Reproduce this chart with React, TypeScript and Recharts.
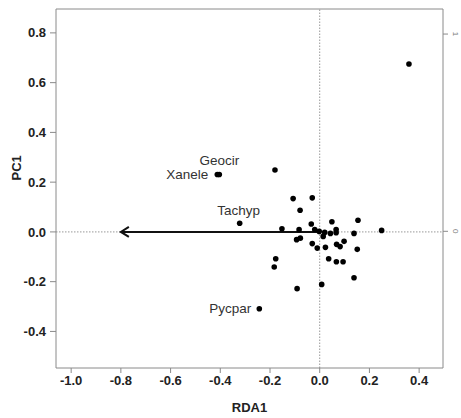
import { ScatterChart, Scatter, XAxis, YAxis, ReferenceLine } from "recharts";

// site scores (RDA1, PC1)
const siteX = [
  0.359, -0.18, -0.412, -0.404, -0.107, -0.03, -0.079, -0.322, 0.049, 0.154,
  -0.034, -0.152, -0.083, -0.02, -0.002, 0.02, 0.043, 0.066, 0.066, 0.014,
  0.138, 0.249, -0.093, -0.078, -0.03, -0.01, 0.023, 0.068, 0.082, 0.098,
  0.151, -0.177, -0.183, 0.036, 0.067, 0.094, 0.138, -0.091, 0.008, -0.243,
];
const siteY = [
  0.675, 0.249, 0.231, 0.231, 0.134, 0.137, 0.087, 0.035, 0.041, 0.047,
  0.032, 0.013, 0.009, 0.01, 0.002, -0.002, -0.006, 0.01, -0.003, -0.018,
  -0.006, 0.006, -0.031, -0.025, -0.047, -0.065, -0.062, -0.05, -0.059, -0.038,
  -0.07, -0.108, -0.141, -0.108, -0.12, -0.12, -0.184, -0.228, -0.211, -0.309,
];

const speciesNames = ["Geocir", "Xanele", "Tachyp", "Pycpar"];
const speciesX = [-0.408, -0.412, -0.322, -0.243];
const speciesY = [0.231, 0.231, 0.035, -0.309];

const arrowX = [0, -0.8];
const arrowY = [0, 0];

const xTicks = [-1.0, -0.8, -0.6, -0.4, -0.2, 0.0, 0.2, 0.4];
const yTicks = [0.8, 0.6, 0.4, 0.2, 0.0, -0.2, -0.4];
const topTicks = [-1, 0];
const rightTicks = [0, 1];

const sites = siteX.map((x, i) => ({ x, y: siteY[i] }));
const species = speciesNames.map((name, i) => ({ name, x: speciesX[i], y: speciesY[i] }));
const arrowHead = [{ x: arrowX[1], y: arrowY[1] }];

const FONT = "'Liberation Sans', Arial, sans-serif";
const AXIS = "#8a8a8a";

// where each species name sits relative to its point
const LABEL_POS: Record<string, { dx: number; dy: number; anchor: string }> = {
  Geocir: { dx: 1, dy: -9, anchor: "middle" },
  Xanele: { dx: -9, dy: 4.5, anchor: "end" },
  Tachyp: { dx: -1, dy: -8, anchor: "middle" },
  Pycpar: { dx: -8, dy: 4.5, anchor: "end" },
};

const SpeciesLabel = (props: any) => {
  const { cx, cy, payload } = props;
  const p = LABEL_POS[payload.name];
  return (
    <text x={cx + p.dx} y={cy + p.dy} textAnchor={p.anchor} fontSize={13.5} fontFamily={FONT} fill="#333">
      {payload.name}
    </text>
  );
};

const ArrowHead = (props: any) => {
  const { cx, cy } = props;
  return (
    <polyline
      points={`${cx + 8},${cy - 5} ${cx},${cy} ${cx + 8},${cy + 5}`}
      fill="none"
      stroke="#111"
      strokeWidth={2}
    />
  );
};

const RightTick = (props: any) => {
  const { x, y, payload } = props;
  return (
    <text
      x={x + 3}
      y={y}
      transform={`rotate(90 ${x + 3} ${y})`}
      textAnchor="middle"
      fontSize={8}
      fontFamily={FONT}
      fill="#777"
    >
      {payload.value}
    </text>
  );
};

export default function App() {
  return (
    <div style={{ position: "absolute", left: 0, top: 0, background: "#fff" }}>
      <ScatterChart width={461} height={418} margin={{ top: 0, right: 0, bottom: 0, left: 0 }}>
        <XAxis
          dataKey="x"
          type="number"
          domain={[-1.061, 0.496]}
          ticks={xTicks}
          allowDataOverflow
          height={50}
          tickSize={5}
          tickMargin={3}
          stroke={AXIS}
          tick={{ fill: "#222", fontSize: 13, fontWeight: "bold", fontFamily: FONT }}
          tickFormatter={(v: number) => v.toFixed(1)}
          label={{ value: "RDA1", position: "insideBottom", offset: 6, fill: "#222", fontSize: 13, fontWeight: "bold", fontFamily: FONT }}
        />
        <XAxis
          xAxisId="top"
          orientation="top"
          type="number"
          domain={[-1.339, 0.627]}
          ticks={topTicks}
          allowDataOverflow
          height={9}
          tickSize={6}
          stroke={AXIS}
          tickFormatter={() => ""}
        />
        <YAxis
          dataKey="y"
          type="number"
          domain={[-0.547, 0.896]}
          ticks={yTicks}
          allowDataOverflow
          width={56}
          tickSize={6}
          tickMargin={4}
          stroke={AXIS}
          tick={{ fill: "#222", fontSize: 13, fontWeight: "bold", fontFamily: FONT }}
          tickFormatter={(v: number) => v.toFixed(1)}
          label={{ value: "PC1", angle: -90, position: "insideLeft", offset: 16, dy: -8, fill: "#222", fontSize: 13, fontWeight: "bold", fontFamily: FONT }}
        />
        <YAxis
          yAxisId="right"
          orientation="right"
          type="number"
          domain={[-0.693, 1.127]}
          ticks={rightTicks}
          allowDataOverflow
          width={18}
          tickSize={5}
          stroke={AXIS}
          tick={<RightTick />}
        />
        <ReferenceLine x={0} stroke="#999" strokeDasharray="1.5 1.5" />
        <ReferenceLine y={0} stroke="#999" strokeDasharray="1.5 1.5" />
        <ReferenceLine
          segment={[
            { x: arrowX[0], y: arrowY[0] },
            { x: arrowX[1], y: arrowY[1] },
          ]}
          stroke="#111"
          strokeWidth={2}
        />
        <Scatter data={arrowHead} shape={<ArrowHead />} isAnimationActive={false} />
        <Scatter data={sites} fill="#000" isAnimationActive={false} shape={(p: any) => <circle cx={p.cx} cy={p.cy} r={2.8} fill="#000" />} />
        <Scatter data={species} shape={<SpeciesLabel />} isAnimationActive={false} />
      </ScatterChart>
    </div>
  );
}
